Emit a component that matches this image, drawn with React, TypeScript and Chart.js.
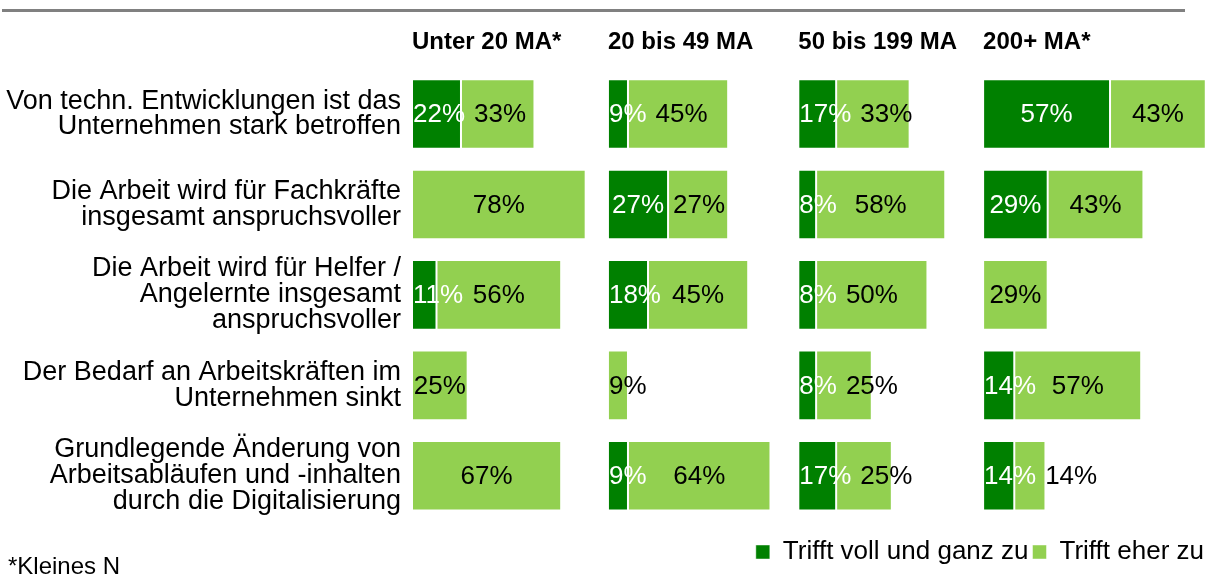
import React, { useEffect, useRef } from "react";
import { Chart, registerables } from "chart.js";

Chart.register(...registerables);

const FONT = '"Liberation Sans", Arial, sans-serif';

const categories: string[][] = [
  ["Von techn. Entwicklungen ist das", "Unternehmen stark betroffen"],
  ["Die Arbeit wird für Fachkräfte", "insgesamt anspruchsvoller"],
  ["Die Arbeit wird für Helfer /", "Angelernte insgesamt", "anspruchsvoller"],
  ["Der Bedarf an Arbeitskräften im", "Unternehmen sinkt"],
  ["Grundlegende Änderung von", "Arbeitsabläufen und -inhalten", "durch die Digitalisierung"],
];

const groupNames = ["Unter 20 MA*", "20 bis 49 MA", "50 bis 199 MA", "200+ MA*"];
const seriesNames = ["Trifft voll und ganz zu", "Trifft eher zu"];

const unter20Voll = [22, 0, 11, 0, 0];
const unter20Eher = [33, 78, 56, 25, 67];
const ma20bis49Voll = [9, 27, 18, 0, 9];
const ma20bis49Eher = [45, 27, 45, 9, 64];
const ma50bis199Voll = [17, 8, 8, 8, 17];
const ma50bis199Eher = [33, 58, 50, 25, 25];
const ma200Voll = [57, 29, 0, 14, 14];
const ma200Eher = [43, 43, 29, 57, 14];

// axis range (in %) of each panel
const panelAxisMax = [88, 85.5, 83, 101];

const vollSeries = [unter20Voll, ma20bis49Voll, ma50bis199Voll, ma200Voll];
const eherSeries = [unter20Eher, ma20bis49Eher, ma50bis199Eher, ma200Eher];

const DARK = "#008000";
const LIGHT = "#92d050";

const segmentLabels = {
  id: "segmentLabels",
  afterDatasetsDraw(chart: any) {
    const ctx = chart.ctx;
    ctx.save();
    ctx.font = `26px ${FONT}`;
    ctx.textBaseline = "middle";
    ctx.textAlign = "left";
    for (let p = 0; p < groupNames.length; p++) {
      const darkMeta = chart.getDatasetMeta(p * 2);
      const lightMeta = chart.getDatasetMeta(p * 2 + 1);
      for (let i = 0; i < categories.length; i++) {
        const segs = [
          { el: darkMeta.data[i], v: vollSeries[p][i], color: "#ffffff" },
          { el: lightMeta.data[i], v: eherSeries[p][i], color: "#000000" },
        ];
        const start = darkMeta.data[i].base;
        let prevRight = -Infinity;
        for (const s of segs) {
          if (!s.v) continue;
          const text = `${s.v}%`;
          const w = ctx.measureText(text).width;
          const { x, base, y } = s.el;
          let left = (x + base) / 2 - w / 2;
          left = Math.max(left, start + 1, prevRight + 9);
          ctx.fillStyle = s.color;
          ctx.fillText(text, left, y + 1);
          prevRight = left + w;
        }
      }
    }
    ctx.restore();
  },
};

export default function App() {
  const ref = useRef<HTMLCanvasElement | null>(null);

  useEffect(() => {
    if (!ref.current) return;
    const datasets: any[] = [];
    const scales: any = {
      y: {
        type: "category",
        stacked: true,
        grid: { display: false, drawTicks: false },
        border: { display: false },
        ticks: {
          autoSkip: false,
          color: "#000",
          padding: 11,
          font: { size: 27, family: FONT, lineHeight: 0.96 },
        },
        afterFit(scale: any) {
          scale.width = 412;
        },
      },
    };
    groupNames.forEach((g, idx) => {
      const axisId = `x${idx}`;
      datasets.push({
        label: seriesNames[0],
        data: vollSeries[idx],
        backgroundColor: DARK,
        borderColor: "rgba(255,255,255,0.45)",
        borderWidth: 1,
        borderSkipped: false,
        xAxisID: axisId,
        yAxisID: "y",
        barPercentage: 1,
        categoryPercentage: 0.77,
      });
      datasets.push({
        label: seriesNames[1],
        data: eherSeries[idx],
        backgroundColor: LIGHT,
        borderColor: "rgba(255,255,255,0.45)",
        borderWidth: 1,
        borderSkipped: false,
        xAxisID: axisId,
        yAxisID: "y",
        barPercentage: 1,
        categoryPercentage: 0.77,
      });
      scales[axisId] = {
        type: "linear",
        axis: "x",
        position: "top",
        stack: "panels",
        stackWeight: panelAxisMax[idx],
        weight: groupNames.length - idx,
        stacked: true,
        min: 0,
        max: panelAxisMax[idx],
        grid: { display: false, drawTicks: false },
        border: { display: false },
        ticks: { display: false },
        title: {
          display: true,
          text: g,
          align: "start",
          color: "#000",
          font: { size: 24, weight: "bold", family: FONT },
          padding: { top: 0, bottom: 12 },
        },
      };
    });

    const chart = new Chart(ref.current, {
      type: "bar",
      data: { labels: categories, datasets },
      options: {
        indexAxis: "y",
        animation: false,
        responsive: false,
        maintainAspectRatio: false,
        layout: { padding: { top: 28, right: 0, bottom: 10, left: 0 } },
        scales,
        plugins: {
          legend: {
            display: true,
            position: "bottom",
            align: "end",
            title: {
              display: true,
              text: "",
              font: { size: 10 },
              padding: 1,
            },
            labels: {
              filter: (item: any) => item.datasetIndex < 2,
              boxWidth: 14,
              boxHeight: 14,
              color: "#000",
              padding: 4,
              font: { size: 26, family: FONT },
            },
          },
          tooltip: { enabled: false },
        },
      } as any,
      plugins: [segmentLabels],
    });
    return () => chart.destroy();
  }, []);

  return (
    <div
      style={{
        position: "absolute",
        left: 0,
        top: 0,
        width: 1208,
        height: 585,
        background: "#ffffff",
        overflow: "hidden",
      }}
    >
      <div
        style={{
          position: "absolute",
          left: 2,
          top: 9,
          width: 1183,
          height: 3,
          background: "#808080",
        }}
      />
      <canvas
        ref={ref}
        width={1208}
        height={585}
        style={{ position: "absolute", left: 0, top: 0, width: 1208, height: 585 }}
      />
      <div
        style={{
          position: "absolute",
          left: 8,
          top: 552,
          fontFamily: FONT,
          fontSize: 24,
          lineHeight: "28px",
          color: "#000",
          whiteSpace: "nowrap",
        }}
      >
        *Kleines N
      </div>
    </div>
  );
}
